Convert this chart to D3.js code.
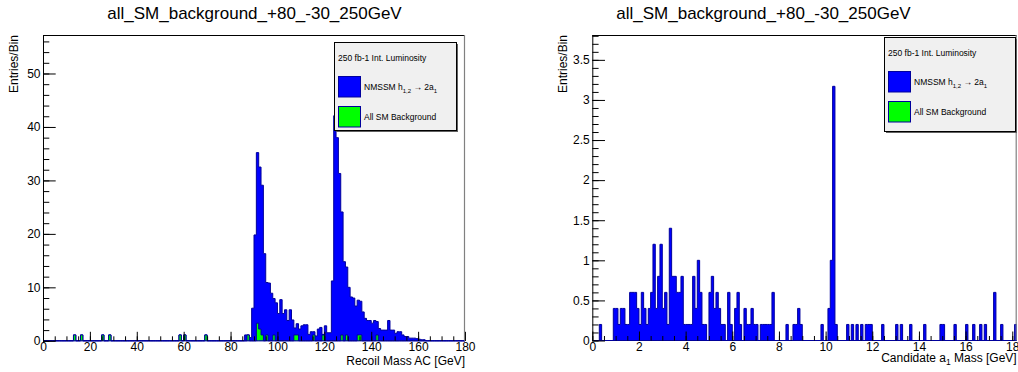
<!DOCTYPE html>
<html><head><meta charset="utf-8">
<script src="https://cdn.jsdelivr.net/npm/d3@7"></script>
<style>
body{margin:0;background:#fff}
svg{display:block}
text{font-family:"Liberation Sans",Arial,Helvetica,sans-serif;fill:#000}
</style>
</head><body>
<svg id="c" width="1018" height="372"></svg>
<script>
// ---------------- DATA ----------------
const chartTitle = "all_SM_background_+80_-30_250GeV";
const yTitle = "Entries/Bin";
const legendHeader = "250 fb-1 Int. Luminosity";
const legendBkg = "All SM Background";

// Left panel: Recoil Mass AC, 1 GeV bins 0-180
const leftBinWidth = 1;
const leftSigStart = 86;
const leftSig = [1.1,0,0.6,6.1,19.8,31.9,30.3,28.0,16.3,9.8,
  10.8,8.9,6.8,7.1,5.1,7.7,5.1,5.8,3.8,5.8,
  3.9,1.3,2.1,2.2,2.8,3.0,3.0,1.2,1.7,0.6,
  0.9,2.2,2.5,0.1,2.8,1.5,1.5,11.2,42.1,38,
  31.3,23.0,14.8,12.7,10,8.2,8.0,6.5,6.5,6.3,
  5.4,4.2,3.8,3.8,3.3,3.8,2.5,2.3,2.0,2.0,
  2.0,3.8,2.0,2.0,1.4,1.7,1.7,1.1,0.8,0.8,
  0.5,0.5,0.5,0.4,0.3,0.2,0.2];
const leftBkgEdges  = [13,16,25,28,58,60,69,87,91,92,93,95,98,107,108,115,119,127,129,134,135,142];
const leftBkgValues = [1.1,1.1,1.1,1.1,1.1,1.1,1.1,1.1,3.3,2.2,1.1,1.1,1.1,1.1,1.1,1.1,1.1,1.1,1.1,1.1,1.1,1.1];
const leftXTicks = [0,20,40,60,80,100,120,140,160,180];
const leftYTicks = [0,10,20,30,40,50];
const leftXTitle = "Recoil Mass AC [GeV]";

// Right panel: Candidate a1 mass, 0.1 GeV bins
const rightBinWidth = 0.1;
const rightSigEdges = [0.3,0.9,1.0,1.1,1.2,1.3,1.4,1.5,1.6,1.7,1.8,1.9,2.0,2.1,2.2,2.3,2.4,2.5,2.6,2.7,2.8,2.9,
  3.0,3.1,3.2,3.3,3.4,3.5,3.6,3.7,3.8,3.9,4.0,4.1,4.2,4.3,4.4,4.5,4.6,4.7,4.8,
  5.0,5.1,5.2,5.3,5.4,5.5,5.6,5.8,5.9,6.1,6.2,6.3,6.5,6.6,6.7,6.8,6.9,7.0,7.2,7.3,7.4,7.5,7.6,7.7,
  8.3,8.6,8.7,8.8,8.9,9.8,10.1,10.2,10.3,10.4,10.9,11.1,11.3,11.5,11.7,11.8,11.9,12.4,13.0,13.2,13.6,
  14.2,14.9,15.0,15.5,16.0,16.3,16.6,16.8,17.2,17.5,18.1];
const rightSigValues = [0.2,0.4,0.4,0.2,0.4,0.4,0.2,0.2,0.6,0.6,0.6,0.4,0.2,0.6,0.4,0.2,0.4,0.6,1.2,0.4,0.8,1.2,
  0.4,0.6,0.2,1.4,0.8,0.8,0.6,0.6,0.8,0.2,0.2,0.2,0.2,0.8,0.4,1.0,0.6,0.2,0.2,
  0.6,0.8,0.4,0.6,0.4,0.2,0.2,0.6,0.2,0.4,0.6,0.2,0.4,0.2,0.2,0.4,0.2,0.2,0.2,0.2,0.2,0.2,0.2,0.6,
  0.2,0.2,0.2,0.4,0.2,0.2,0.4,1.0,3.17,0.2,0.2,0.2,0.2,0.2,0.2,0.2,0.2,0.2,0.2,0.2,0.2,
  0.2,0.2,0.2,0.2,0.2,0.2,0.2,0.2,0.6,0.2,0.2];
const rightBkgEdges = [];
const rightBkgValues = [];
const rightXTicks = [0,2,4,6,8,10,12,14,16,18];
const rightYTicks = [0,0.5,1,1.5,2,2.5,3,3.5];

// ---------------- DRAWING ----------------
const svg = d3.select("#c");
const navy = "#00009c";
const FS = 12;

function panel(o){
  const x = d3.scaleLinear().domain(o.xDomain).range([o.left, o.right]);
  const y = d3.scaleLinear().domain(o.yDomain).range([o.bottom, o.top]);
  const g = svg.append("g");
  const cid = "clip" + o.id;
  g.append("clipPath").attr("id", cid).append("rect")
    .attr("x", o.left).attr("y", o.top).attr("width", o.right - o.left).attr("height", o.bottom - o.top + 1);

  const n = Math.round((o.xDomain[1] - o.xDomain[0]) / o.binWidth);
  const rows = d3.range(n).map(i => ({x0: o.xDomain[0] + i * o.binWidth, sig: 0, bkg: 0}));
  o.sigEdges.forEach((e, k) => { rows[Math.round((e - o.xDomain[0]) / o.binWidth)].sig = o.sigValues[k]; });
  o.bkgEdges.forEach((e, k) => { rows[Math.round((e - o.xDomain[0]) / o.binWidth)].bkg = o.bkgValues[k]; });
  const st = d3.stack().keys(["bkg", "sig"])(rows);
  const pts = li => {
    const a = rows.map((r, i) => [r.x0, st[li][i][1]]);
    a.push([o.xDomain[0] + n * o.binWidth, a[a.length - 1][1]]);
    return a;
  };
  const area = d3.area().x(d => x(d[0])).y0(y(0)).y1(d => y(d[1])).curve(d3.curveStepAfter);
  const hg = g.append("g").attr("clip-path", `url(#${cid})`);
  hg.append("path").attr("d", area(pts(1))).attr("fill", "#0000ff").attr("stroke", navy).attr("stroke-width", 1);
  hg.append("path").attr("d", area(pts(0))).attr("fill", "#00ff00").attr("stroke", navy).attr("stroke-width", 1);

  // axes (ticks inward)
  g.append("g").attr("transform", `translate(${o.left},0)`)
    .call(d3.axisLeft(y).tickValues(o.yTicks).tickSize(-12.7).tickPadding(2.5).tickFormat(o.yFmt));
  const yMinor = d3.range(0, o.yDomain[1] + 1e-9, o.yMinor).filter(v => v <= o.yDomain[1]);
  g.append("g").attr("transform", `translate(${o.left},0)`)
    .call(d3.axisLeft(y).tickValues(yMinor).tickSize(-6.3).tickFormat(""));
  g.append("g").attr("transform", `translate(0,${o.bottom})`)
    .call(d3.axisBottom(x).tickValues(o.xTicks).tickSize(-9).tickPadding(2).tickFormat(d3.format("d")));
  const xMinor = d3.range(o.xDomain[0], o.xDomain[1] + 1e-9, o.xMinor);
  g.append("g").attr("transform", `translate(0,${o.bottom})`)
    .call(d3.axisBottom(x).tickValues(xMinor).tickSize(-4.5).tickFormat(""));
  g.selectAll(".domain").remove();
  g.selectAll(".tick line").attr("stroke", "#000").attr("stroke-width", 1);
  g.selectAll(".tick text").attr("font-size", FS).attr("font-family", "Liberation Sans, Arial, sans-serif").attr("fill", "#000");

  // frame
  g.append("line").attr("x1", o.left).attr("x2", o.right).attr("y1", o.top + 0.5).attr("y2", o.top + 0.5).attr("stroke", "#000");
  g.append("line").attr("x1", o.right - 0.5).attr("x2", o.right - 0.5).attr("y1", o.top).attr("y2", o.bottom).attr("stroke", "#808080").attr("stroke-width", 1.2);
  g.append("line").attr("x1", o.left + 0.5).attr("x2", o.left + 0.5).attr("y1", o.top).attr("y2", o.bottom + 0.5).attr("stroke", "#000");

  // titles
  svg.append("text").attr("x", o.titleX).attr("y", 18.5).attr("text-anchor", "middle")
    .attr("font-size", 17).text(chartTitle);
  svg.append("text").attr("transform", `translate(${o.yTitleX},${o.top}) rotate(-90)`)
    .attr("text-anchor", "end").attr("font-size", FS).text(yTitle);
  const xt = svg.append("text").attr("x", o.right).attr("y", o.xTitleY).attr("text-anchor", "end").attr("font-size", FS);
  o.xTitle(xt);

  // legend
  const L = o.legend;
  svg.append("rect").attr("x", L.x + 2).attr("y", L.y + 2).attr("width", L.w).attr("height", L.h).attr("fill", "#606060");
  svg.append("rect").attr("x", L.x + 0.5).attr("y", L.y + 0.5).attr("width", L.w).attr("height", L.h)
    .attr("fill", "#f0f0f0").attr("stroke", "#000").attr("stroke-width", 1);
  svg.append("text").attr("x", L.x + 4).attr("y", L.y + 18.5).attr("font-size", 8.5).text(legendHeader);
  svg.append("rect").attr("x", L.x + 4.5).attr("y", L.y + 34.5).attr("width", 22).attr("height", 20.5)
    .attr("fill", "#0000ff").attr("stroke", navy);
  svg.append("rect").attr("x", L.x + 4.5).attr("y", L.y + 64.5).attr("width", 22).attr("height", 20.5)
    .attr("fill", "#00ff00").attr("stroke", navy);
  const t1 = svg.append("text").attr("x", L.x + 30).attr("y", L.y + 48).attr("font-size", 8.5);
  t1.append("tspan").text("NMSSM h");
  t1.append("tspan").attr("font-size", 6).attr("dy", 2.5).text("1,2");
  t1.append("tspan").attr("dy", -2.5).text(" \u2192 2a");
  t1.append("tspan").attr("font-size", 6).attr("dy", 2.5).text("1");
  svg.append("text").attr("x", L.x + 30).attr("y", L.y + 78).attr("font-size", 8.5).text(legendBkg);
}

panel({
  id: "L", left: 43, right: 465, top: 35, bottom: 340.8,
  xDomain: [0, 180], yDomain: [0, 57.2], binWidth: leftBinWidth,
  sigEdges: leftSig.map((v, i) => leftSigStart + i), sigValues: leftSig,
  bkgEdges: leftBkgEdges, bkgValues: leftBkgValues,
  xTicks: leftXTicks, yTicks: leftYTicks, xMinor: 5, yMinor: 2, yFmt: d3.format("d"),
  titleX: 254.5, yTitleX: 18, xTitleY: 365,
  xTitle: t => t.text(leftXTitle),
  legend: {x: 334, y: 42, w: 122, h: 88}
});

panel({
  id: "R", left: 592.3, right: 1016.7, top: 35, bottom: 340.5,
  xDomain: [0, 18.19], yDomain: [0, 3.81], binWidth: rightBinWidth,
  sigEdges: rightSigEdges, sigValues: rightSigValues,
  bkgEdges: rightBkgEdges, bkgValues: rightBkgValues,
  xTicks: rightXTicks, yTicks: rightYTicks, xMinor: 0.5, yMinor: 0.1, yFmt: d => d3.format("")(d),
  titleX: 763.5, yTitleX: 567, xTitleY: 362,
  xTitle: t => {
    t.append("tspan").text("Candidate a");
    t.append("tspan").attr("font-size", 8.5).attr("dy", 3).text("1");
    t.append("tspan").attr("dy", -3).text(" Mass [GeV]");
  },
  legend: {x: 884, y: 37, w: 131, h: 94}
});
</script>
</body></html>
